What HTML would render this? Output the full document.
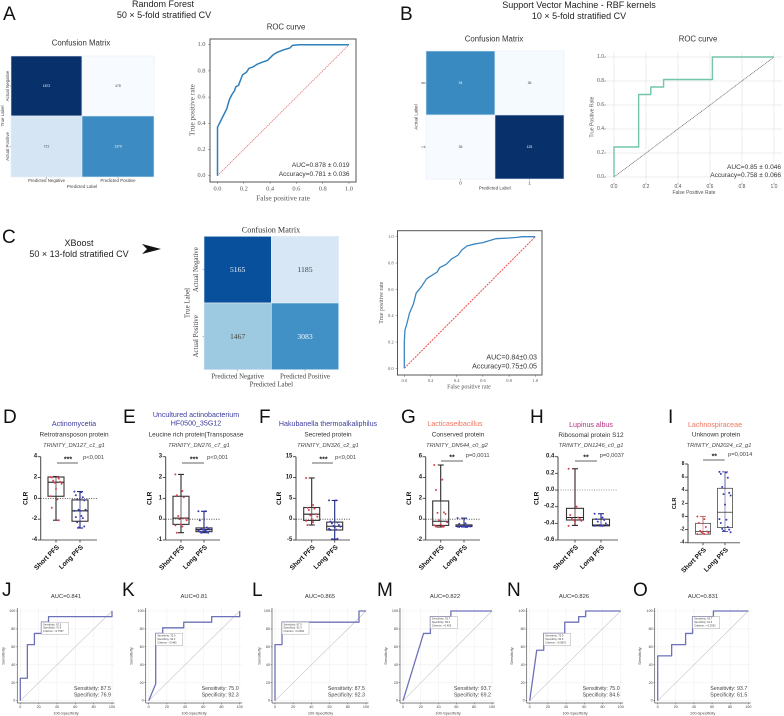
<!DOCTYPE html>
<html lang="en">
<head>
<meta charset="utf-8">
<title>Classifier performance and biomarker figure</title>
<style>
html,body{margin:0;padding:0;background:#fff;}
#figure{display:block;width:784px;height:716px;font-family:"Liberation Sans",sans-serif;filter:blur(0.35px);}
.ttl{font-size:9px;fill:#222;text-anchor:middle;dominant-baseline:central;}
.sub{font-size:7.8px;fill:#333;text-anchor:middle;dominant-baseline:central;}
.ltr{font-size:19px;fill:#111;}
.bt{font-size:7.1px;text-anchor:middle;dominant-baseline:central;}
.bp{font-size:6.45px;fill:#333;text-anchor:middle;dominant-baseline:central;}
.bi{font-size:5.7px;fill:#444;font-style:italic;text-anchor:middle;dominant-baseline:central;}
.auc{font-size:5.8px;fill:#333;text-anchor:middle;dominant-baseline:central;}
</style>
</head>
<body>
<svg id="figure" xmlns="http://www.w3.org/2000/svg" width="784" height="716" viewBox="0 0 784 716">
<rect x="0" y="0" width="784" height="716" fill="#fff"/>

<text class="ltr" x="3" y="20">A</text>
<text class="ltr" x="400" y="20">B</text>
<text class="ltr" x="2" y="243">C</text>
<text class="ltr" x="3" y="423">D</text>
<text class="ltr" x="123" y="423">E</text>
<text class="ltr" x="259" y="423">F</text>
<text class="ltr" x="401" y="423">G</text>
<text class="ltr" x="530" y="423">H</text>
<text class="ltr" x="668" y="423">I</text>
<text class="ltr" x="2" y="596">J</text>
<text class="ltr" x="122" y="596">K</text>
<text class="ltr" x="252" y="596">L</text>
<text class="ltr" x="377" y="596">M</text>
<text class="ltr" x="507" y="596">N</text>
<text class="ltr" x="633" y="596">O</text>

<text class="ttl" x="163" y="4">Random Forest</text>
<text class="ttl" x="164" y="15">50 × 5-fold stratified CV</text>
<text class="sub" x="81" y="43">Confusion Matrix</text>
<text class="sub" x="286" y="27">ROC curve</text>

<text class="ttl" x="579" y="5">Support Vector Machine - RBF kernels</text>
<text class="ttl" x="579" y="16">10 × 5-fold stratified CV</text>
<text class="sub" x="494" y="39">Confusion Matrix</text>
<text class="sub" x="698" y="39">ROC curve</text>

<text class="ttl" x="79" y="243">XBoost</text>
<text class="ttl" x="79" y="254">50 × 13-fold stratified CV</text>
<path d="M142 244 L161 249 L142 254 L147 249 Z" fill="#111"/>
<text x="271" y="230" font-family="Liberation Serif" font-size="8.2" fill="#333" text-anchor="middle" dominant-baseline="central">Confusion Matrix</text>

<g id="cmA"></g>
<g id="rocA"></g>
<g id="cmB"></g>
<g id="rocB"></g>
<g id="cmC"></g>
<g id="rocC"></g>

<text class="bt" fill="#3b3b9e" x="74" y="424">Actinomycetia</text>
<text class="bp" x="74" y="435">Retrotransposon protein</text>
<text class="bi" x="74" y="446">TRINITY_DN127_c1_g1</text>
<text class="bt" fill="#3b3b9e" x="196" y="415">Uncultured actinobacterium</text>
<text class="bt" fill="#3b3b9e" x="196" y="423.5">HF0500_35G12</text>
<text class="bp" x="196" y="435">Leucine rich protein|Transposase</text>
<text class="bi" x="199" y="446">TRINITY_DN276_c7_g1</text>
<text class="bt" fill="#3b3b9e" x="328" y="424">Hakubanella thermoalkaliphilus</text>
<text class="bp" x="328" y="435">Secreted protein</text>
<text class="bi" x="328" y="446">TRINITY_DN326_c2_g1</text>
<text class="bt" fill="#f0745e" x="455" y="424">Lacticaseibacillus</text>
<text class="bp" x="458" y="435">Conserved protein</text>
<text class="bi" x="457" y="446">TRINITY_DN544_c0_g2</text>
<text class="bt" fill="#b0307f" x="591" y="425">Lupinus albus</text>
<text class="bp" x="591" y="435.5">Ribosomal protein S12</text>
<text class="bi" x="591" y="446">TRINITY_DN1246_c0_g1</text>
<text class="bt" fill="#f0745e" x="715" y="425">Lachnospiraceae</text>
<text class="bp" x="716" y="435">Unknown protein</text>
<text class="bi" x="719" y="446">TRINITY_DN2024_c2_g1</text>

<g id="boxD"></g>
<g id="boxE"></g>
<g id="boxF"></g>
<g id="boxG"></g>
<g id="boxH"></g>
<g id="boxI"></g>

<text class="auc" x="66" y="597">AUC=0.841</text>
<text class="auc" x="194" y="597">AUC=0.81</text>
<text class="auc" x="320" y="597">AUC=0.865</text>
<text class="auc" x="445" y="597">AUC=0.822</text>
<text class="auc" x="574" y="597">AUC=0.826</text>
<text class="auc" x="703" y="597">AUC=0.831</text>

<g id="rocJ"></g>
<g id="rocK"></g>
<g id="rocL"></g>
<g id="rocM"></g>
<g id="rocN"></g>
<g id="rocO"></g>
</svg>

<script>
/* ---------- confusion matrix data ---------- */
const cmALabels = ["Predicted Negative", "Predicted Positive"];
const cmARowLabels = ["Actual Negative", "Actual Positive"];
const cmACounts = [[1872, 478], [721, 1379]];
const cmBLabels = ["0", "1"];
const cmBRowLabels = ["0", "1"];
const cmBCounts = [[94, 36], [35, 125]];
const cmCLabels = ["Predicted Negative", "Predicted Positive"];
const cmCRowLabels = ["Actual Negative", "Actual Positive"];
const cmCCounts = [[5165, 1185], [1467, 3083]];

/* ---------- ROC curves, classifier panels ---------- */
const rocTicks = [0, 0.2, 0.4, 0.6, 0.8, 1];
const rocAFpr = [0, 0, 0.005, 0.02, 0.05, 0.07, 0.09, 0.11, 0.13, 0.14, 0.16, 0.19, 0.22, 0.24, 0.27, 0.30, 0.35, 0.38, 0.42, 0.45, 0.50, 0.55, 0.57, 0.62, 1];
const rocATpr = [0, 0.37, 0.38, 0.41, 0.47, 0.51, 0.58, 0.62, 0.65, 0.68, 0.69, 0.77, 0.79, 0.82, 0.83, 0.85, 0.87, 0.88, 0.92, 0.94, 0.96, 0.975, 0.995, 1, 1];
const rocBFpr = [0, 0, 0.154, 0.154, 0.23, 0.23, 0.31, 0.31, 0.615, 0.615, 1];
const rocBTpr = [0, 0.25, 0.25, 0.6875, 0.6875, 0.75, 0.75, 0.8125, 0.8125, 1, 1];
const rocCFpr = [0, 0, 0.005, 0.02, 0.04, 0.07, 0.09, 0.13, 0.17, 0.20, 0.25, 0.27, 0.32, 0.36, 0.41, 0.44, 0.48, 0.54, 0.60, 0.70, 0.80, 0.86, 0.90, 1];
const rocCTpr = [0, 0.20, 0.29, 0.34, 0.42, 0.49, 0.57, 0.62, 0.68, 0.70, 0.73, 0.765, 0.79, 0.83, 0.86, 0.90, 0.93, 0.945, 0.955, 0.985, 0.99, 0.995, 1, 1];

/* ---------- boxplot data: [low whisker, q1, median, q3, high whisker] ---------- */
const boxGroups = ["Short PFS", "Long PFS"];
const dTicks = [4, 2, 0, -2, -4];
const dShort = [-2.1, 0.2, 1.55, 2.05, 2.1];
const dLong = [-2.85, -2.2, -1.2, -0.15, 0.65];
const dShortPts = [2.05, 2.05, 2.0, 1.9, 1.7, 1.6, 1.5, 1.4, 0.9, 0.2, -0.1, -0.9, -2.1];
const dLongPts = [0.65, 0.6, 0.3, 0.1, -0.1, -0.2, -1.1, -1.1, -1.2, -1.2, -1.7, -1.8, -1.9, -2.3, -2.7, -2.8];
const eTicks = [3, 2, 1, 0, -1];
const eShort = [-0.65, -0.25, 0.05, 1.1, 2.15];
const eLong = [-0.65, -0.6, -0.5, -0.42, 0.38];
const eShortPts = [2.15, 1.35, 1.15, 1.05, 0.15, 0.05, 0, -0.05, -0.25, -0.3, -0.35, -0.65];
const eLongPts = [0.38, 0.38, -0.05, -0.4, -0.45, -0.45, -0.5, -0.5, -0.5, -0.55, -0.55, -0.6, -0.6, -0.65, -0.65];
const fTicks = [15, 10, 5, 0, -5];
const fShort = [-1.4, -0.3, 1.2, 2.8, 9.9];
const fLong = [-4.8, -2.6, -1.7, -0.7, 4.5];
const fShortPts = [9.9, 3.4, 2.7, 2.5, 2.2, 1.2, 0.9, 0.6, 0, -0.4, -0.7, -1.4];
const fLongPts = [4.5, 4.5, -0.6, -0.8, -1, -1.4, -1.6, -1.8, -2, -2.3, -2.5, -2.6, -4.7, -4.8];
const gTicks = [6, 4, 2, 0, -2];
const gShort = [-0.75, -0.6, -0.2, 1.75, 5.2];
const gLong = [-0.75, -0.7, -0.68, -0.55, 0.1];
const gShortPts = [5.2, 3.8, 2.8, 0.65, 0.6, 0.5, -0.1, -0.3, -0.5, -0.6, -0.7, -0.7, -0.7, -0.75];
const gLongPts = [0.1, -0.4, -0.45, -0.6, -0.65, -0.68, -0.7, -0.7, -0.7, -0.72, -0.75, -0.75, -0.75];
const hTicks = [0.4, 0.2, 0, -0.2, -0.4, -0.6];
const hShort = [-0.425, -0.36, -0.33, -0.22, 0.255];
const hLong = [-0.43, -0.43, -0.42, -0.35, -0.285];
const hShortPts = [0.255, -0.2, -0.3, -0.33, -0.34, -0.35, -0.36, -0.37, -0.38, -0.43];
const hLongPts = [-0.285, -0.33, -0.35, -0.36, -0.38, -0.4, -0.42, -0.42, -0.43, -0.43, -0.43];
const iTicks = [8, 6, 4, 2, 0, -2, -4];
const iShort = [-2.7, -2.7, -2.3, -1.04, 0];
const iLong = [-2.3, -1.7, 0.65, 4.3, 6.8];
const iShortPts = [0, -0.4, -1, -1.6, -2.2, -2.3, -2.4, -2.5, -2.6, -2.7, -2.7];
const iLongPts = [6.8, 6.7, 6.5, 5.9, 4.5, 3.6, 3.4, 3.2, 1.8, -0.4, -0.5, -1, -1.6, -1.9, -2, -2.2, -2.4];

/* ---------- ROC curves, biomarker panels ---------- */
const smallTicks = [0, 20, 40, 60, 80, 100];
const jX = [0, 0, 7.7, 7.7, 15.4, 15.4, 23.1, 23.1, 30.8, 30.8, 100, 100];
const jY = [0, 25, 25, 62.5, 62.5, 75, 75, 87.5, 87.5, 93.75, 93.75, 100];
const jCut = [23.1, 87.5];
const jStats = ["87.5", "76.9", ">0.7567"];
const kX = [0, 7.7, 7.7, 15.4, 15.4, 38.5, 38.5, 69.2, 69.2, 100, 100];
const kY = [0, 18.75, 75, 75, 81.25, 81.25, 87.5, 87.5, 93.75, 93.75, 100];
const kCut = [7.7, 75];
const kStats = ["75.0", "92.3", ">0.483"];
const lX = [0, 0, 7.7, 7.7, 92.3, 92.3, 100];
const lY = [0, 62.5, 62.5, 87.5, 87.5, 100, 100];
const lCut = [7.7, 87.5];
const lStats = ["87.5", "92.3", ">0.0962"];
const mX = [0, 23.1, 30.8, 30.8, 53.8, 53.8, 100];
const mY = [0, 75, 75, 93.75, 93.75, 100, 100];
const mCut = [30.8, 93.75];
const mStats = ["93.7", "69.2", ">0.456"];
const nX = [0, 7.7, 15.4, 15.4, 38.5, 38.5, 53.8, 53.8, 61.5, 61.5, 100];
const nY = [0, 56.25, 56.25, 75, 75, 87.5, 87.5, 93.75, 93.75, 100, 100];
const nCut = [15.4, 75];
const nStats = ["75.0", "84.6", ">0.0875"];
const oX = [0, 0, 15.4, 15.4, 30.8, 30.8, 38.5, 38.5, 61.5, 61.5, 100];
const oY = [0, 50, 50, 62.5, 62.5, 75, 75, 93.75, 93.75, 100, 100];
const oCut = [38.5, 93.75];
const oStats = ["93.7", "61.5", ">-0.2591"];

const SVGNS = "http://www.w3.org/2000/svg";
const SERIF = '"Liberation Serif",serif';
const SANS = '"Liberation Sans",sans-serif';

function scale(d0, d1, r0, r1) {
  return function (v) { return r0 + (v - d0) * (r1 - r0) / (d1 - d0); };
}
function make(parent, tag, name, attrs) {
  const el = document.createElementNS(SVGNS, tag);
  for (const k in attrs) el.setAttribute(k, attrs[k]);
  
  
  parent.appendChild(el);
  return el;
}
function line(p, name, x1, y1, x2, y2, stroke, w, dash) {
  const a = { x1: x1, y1: y1, x2: x2, y2: y2, stroke: stroke, 'stroke-width': w };
  if (dash) a['stroke-dasharray'] = dash;
  return make(p, 'line', name, a);
}
function label(p, name, str, x, y, size, fill, opt) {
  opt = opt || {};
  const a = { x: x, y: y, 'font-size': size, fill: fill, 'font-family': opt.font || SANS,
    'text-anchor': opt.anchor || 'middle', 'dominant-baseline': 'central' };
  if (opt.weight) a['font-weight'] = opt.weight;
  if (opt.rotate !== undefined) a.transform = 'rotate(' + opt.rotate + ' ' + x + ' ' + y + ')';
  const t = make(p, 'text', name, a);
  t.textContent = str;
  return t;
}
function polyline(p, name, xs, ys, sx, sy, stroke, w) {
  const pts = xs.map(function (x, i) { return sx(x).toFixed(2) + ',' + sy(ys[i]).toFixed(2); }).join(' ');
  return make(p, 'polyline', name, { points: pts, fill: 'none', stroke: stroke, 'stroke-width': w, 'stroke-linejoin': 'round' });
}

const BLUES = [[247,251,255],[222,235,247],[198,219,239],[158,202,225],[107,174,214],[66,146,198],[33,113,181],[8,81,156],[8,48,107]];
function blues(t) {
  t = Math.max(0, Math.min(1, t)) * (BLUES.length - 1);
  const i = Math.min(BLUES.length - 2, Math.floor(t)), f = t - i;
  const c = BLUES[i].map(function (v, k) { return Math.round(v + (BLUES[i + 1][k] - v) * f); });
  return 'rgb(' + c.join(',') + ')';
}
/* colour ramp for row-normalised matrices: row share in, colour position out */
function shareRamp(s) {
  const from = [0, 0.187, 0.32, 0.68, 0.81, 1];
  const to = [0, 0.16, 0.375, 0.63, 0.875, 1];
  for (let i = 0; i < from.length - 1; i++) {
    if (s <= from[i + 1]) return to[i] + (s - from[i]) * (to[i + 1] - to[i]) / (from[i + 1] - from[i]);
  }
  return 1;
}

function drawCM(id, counts, cols, rows, o) {
  const p = document.getElementById(id);
  const flat = counts[0].concat(counts[1]);
  const lo = Math.min.apply(null, flat), hi = Math.max.apply(null, flat);
  const xEdge = [o.x0, o.xm, o.x1], yEdge = [o.y0, o.ym, o.y1];
  counts.forEach(function (row, r) {
    const rowSum = row[0] + row[1];
    row.forEach(function (v, c) {
      const t = o.rowNorm ? shareRamp(v / rowSum) : (v - lo) / (hi - lo);
      make(p, 'rect', 'cm-cell', { x: xEdge[c], y: yEdge[r], width: xEdge[c + 1] - xEdge[c], height: yEdge[r + 1] - yEdge[r],
        fill: blues(t), stroke: '#e4eef8', 'stroke-width': 0.6 });
      label(p, 'cm-cell-value', String(v), (xEdge[c] + xEdge[c + 1]) / 2, (yEdge[r] + yEdge[r + 1]) / 2, o.cellSize,
        t > 0.5 ? '#f2f6fb' : '#444', { font: o.font });
    });
  });
  cols.forEach(function (s, c) {
    const x = (xEdge[c] + xEdge[c + 1]) / 2;
    line(p, 'cm-x-tick', x, o.y1, x, o.y1 + 1.5, '#555', 0.4);
    label(p, 'cm-x-tick-label', s, x, o.colLabelY, o.tickSize, '#444', { font: o.font });
  });
  rows.forEach(function (s, r) {
    const y = (yEdge[r] + yEdge[r + 1]) / 2;
    line(p, 'cm-y-tick', o.x0 - 1.5, y, o.x0, y, '#555', 0.4);
    label(p, 'cm-y-tick-label', s, o.rowLabelX, y, o.tickSize, '#444', { font: o.font, rotate: -90 });
  });
  label(p, 'cm-x-axis-title', 'Predicted Label', o.xTitle[0], o.xTitle[1], o.tickSize, '#444', { font: o.font });
  label(p, 'cm-y-axis-title', o.yTitleText, o.yTitle[0], o.yTitle[1], o.tickSize, '#444', { font: o.font, rotate: -90 });
}

function drawRocLarge(id, xs, ys, o) {
  const p = document.getElementById(id);
  const sx = scale(0, 1, o.x0, o.x1), sy = scale(0, 1, o.y0, o.y1);
  if (o.grid) {
    rocTicks.forEach(function (t) {
      line(p, 'grid-vertical', sx(t), o.top, sx(t), o.bottom, '#e8e8e8', 0.8);
      line(p, 'grid-horizontal', o.left, sy(t), o.right, sy(t), '#e8e8e8', 0.8);
    });
  }
  if (o.box) {
    make(p, 'rect', 'plot-frame', { x: o.left, y: o.top, width: o.right - o.left, height: o.bottom - o.top, fill: 'none', stroke: '#555', 'stroke-width': 1 });
  }
  rocTicks.forEach(function (t) {
    line(p, 'x-tick', sx(t), o.bottom, sx(t), o.bottom + 1.8, '#555', 0.5);
    line(p, 'y-tick', o.left - 1.8, sy(t), o.left, sy(t), '#555', 0.5);
    label(p, 'x-tick-label', t.toFixed(1), sx(t), o.xLabelY, o.tickSize, '#555', { font: o.font });
    label(p, 'y-tick-label', t.toFixed(1), o.yLabelX, sy(t), o.tickSize, '#555', { font: o.font, anchor: 'end' });
  });
  line(p, 'chance-diagonal', sx(0), sy(0), sx(1), sy(1), o.diag, o.diagW, o.diagDash);
  polyline(p, 'roc-curve', xs, ys, sx, sy, o.color, o.lineW);
  label(p, 'x-axis-title', o.xTitleText, o.xTitle[0], o.xTitle[1], o.titleSize, '#555', { font: o.font });
  label(p, 'y-axis-title', o.yTitleText, o.yTitle[0], o.yTitle[1], o.titleSize, '#555', { font: o.font, rotate: -90 });
  label(p, 'auc-annotation', o.auc, o.textX, o.textY[0], o.statSize, '#333', { anchor: 'end' });
  label(p, 'accuracy-annotation', o.acc, o.textX, o.textY[1], o.statSize, '#333', { anchor: 'end' });
}

function drawBox(id, ticks, shortStats, longStats, shortPts, longPts, o) {
  const p = document.getElementById(id);
  const sy = scale(ticks[0], ticks[ticks.length - 1], o.yTop, o.yBottom);
  const thin = o.thin ? 0.7 : 1.1;
  line(p, 'y-axis-line', o.axisX, o.yTop, o.axisX, o.yBottom, '#444', 1);
  line(p, 'x-axis-line', o.axisX, o.yBottom, o.axisEnd, o.yBottom, '#666', 1);
  ticks.forEach(function (t) {
    line(p, 'y-tick', o.axisX - 3, sy(t), o.axisX, sy(t), '#444', 0.9);
    label(p, 'y-tick-label', o.dec ? t.toFixed(1) : String(t), o.axisX - 3.6, sy(t), o.thin ? 5 : 6, '#222', { anchor: 'end', weight: 'bold' });
  });
  if (o.zero) line(p, 'zero-reference-line', o.axisX, sy(0), o.axisEnd, sy(0), o.zero, 0.8, '1 1.4');
  [[shortStats, shortPts, o.cats[0], '#d8434f', o.shortWhisker], [longStats, longPts, o.cats[1], '#3b3bb5', '#1c2480']].forEach(function (g, gi) {
    const s = g[0], cx = g[2], w = o.boxW / 2;
    const nm = gi === 0 ? 'short-pfs' : 'long-pfs';
    line(p, nm + '-whisker', cx, sy(s[0]), cx, sy(s[4]), g[4], thin);
    line(p, nm + '-whisker-cap-low', cx - 3, sy(s[0]), cx + 3, sy(s[0]), g[4], thin);
    line(p, nm + '-whisker-cap-high', cx - 3, sy(s[4]), cx + 3, sy(s[4]), g[4], thin);
    make(p, 'rect', nm + '-box', { x: cx - w, y: sy(s[3]), width: o.boxW, height: sy(s[1]) - sy(s[3]), fill: '#fff', 'fill-opacity': 0.35, stroke: '#333', 'stroke-width': o.thin ? 0.7 : 1.1 });
    line(p, nm + '-median', cx - w, sy(s[2]), cx + w, sy(s[2]), '#222', o.thin ? 0.7 : 1.1);
    g[1].forEach(function (v, i) {
      const off = ((i * 5) % 9 - 4) * o.jitter;
      make(p, 'circle', nm + '-point', { cx: cx + off, cy: sy(v), r: 1, fill: g[3] });
    });
    label(p, 'group-label', boxGroups[gi], cx + 2.5, o.yBottom + 6.5, 6.7, '#111', { anchor: 'end', weight: 'bold', rotate: -45 });
    line(p, 'x-tick', cx, o.yBottom, cx, o.yBottom + 2.5, '#444', 0.9);
  });
  label(p, 'y-axis-title', 'CLR', o.clrX, (o.yTop + o.yBottom) / 2, o.thin ? 5.7 : 6.5, '#111', { weight: 'bold', rotate: -90 });
  line(p, 'significance-bar', o.sig[0], o.sigY, o.sig[1], o.sigY, '#666', 0.9);
  label(p, 'significance-stars', o.stars, o.starX, o.sigY - 3, 7, '#222', { weight: 'bold' });
  label(p, 'p-value', o.pText, o.pX, o.sigY - 5, 5.8, '#444', { anchor: 'start' });
}

function drawSmallRoc(id, xs, ys, cut, stats, o) {
  const p = document.getElementById(id);
  const sx = scale(0, 100, o.x0, o.x100), sy = scale(0, 100, 700.7, 611);
  const left = o.x0 - 3, right = o.x100 + 2.4, top = 608, bottom = 703;
  smallTicks.forEach(function (t) {
    line(p, 'grid-vertical', sx(t), top, sx(t), bottom, '#efefef', 0.6);
    line(p, 'grid-horizontal', left, sy(t), right, sy(t), '#efefef', 0.6);
    line(p, 'x-tick', sx(t), bottom, sx(t), bottom + 1.4, '#555', 0.5);
    line(p, 'y-tick', left - 1.4, sy(t), left, sy(t), '#555', 0.5);
    label(p, 'x-tick-label', String(t), sx(t), bottom + 4.2, 3.7, '#444');
    label(p, 'y-tick-label', String(t), left - 2, sy(t), 3.7, '#444', { anchor: 'end' });
  });
  line(p, 'y-axis-line', left, top, left, bottom, '#555', 0.7);
  line(p, 'x-axis-line', left, bottom, right, bottom, '#555', 0.7);
  line(p, 'chance-diagonal', sx(0), sy(0), sx(100), sy(100), '#c9c4c4', 0.6);
  polyline(p, 'roc-curve', xs, ys, sx, sy, '#6d71ba', 1.3);
  const bx = sx(cut[0]), by = sy(cut[1]);
  make(p, 'rect', 'criterion-box', { x: bx, y: by, width: 27, height: 12, fill: '#fff', stroke: '#aaa', 'stroke-width': 0.5 });
  ['Sensitivity: ' + stats[0], 'Specificity: ' + stats[1], 'Criterion: ' + stats[2]].forEach(function (s, i) {
    label(p, 'criterion-text', s, bx + 1.5, by + 2.6 + i * 3.4, 2.6, '#444', { anchor: 'start' });
  });
  label(p, 'sensitivity-annotation', 'Sensitivity: ' + stats[0], o.x100 - 1, 689, 5.3, '#444', { anchor: 'end' });
  label(p, 'specificity-annotation', 'Specificity: ' + stats[1], o.x100 - 1, 695.3, 5.3, '#444', { anchor: 'end' });
  label(p, 'x-axis-title', '100-Specificity', o.xTitle, 713, 3.9, '#444');
  label(p, 'y-axis-title', 'Sensitivity', o.yTitle, 656, 3.9, '#444', { rotate: -90 });
}

/* ---------- render ---------- */
drawCM('cmA', cmACounts, cmALabels, cmARowLabels, { x0: 11, xm: 82, x1: 154, y0: 56, ym: 116, y1: 177, cellSize: 3.4, tickSize: 4.4, font: SANS, colLabelY: 180.3, rowLabelX: 7.3, xTitle: [82, 186.3], yTitle: [2.4, 116], yTitleText: 'True Label' });
drawCM('cmB', cmBCounts, cmBLabels, cmBRowLabels, { x0: 426, xm: 495, x1: 564, y0: 51, ym: 115, y1: 179, cellSize: 3.4, tickSize: 4.6, font: SANS, colLabelY: 182.8, rowLabelX: 423, xTitle: [494.7, 188], yTitle: [416, 117], yTitleText: 'Actual Label' });
drawCM('cmC', cmCCounts, cmCLabels, cmCRowLabels, { x0: 204, xm: 271.3, x1: 338.7, y0: 236.3, ym: 303, y1: 369.7, cellSize: 7.7, tickSize: 6.9, font: SERIF, rowNorm: true, colLabelY: 377, rowLabelX: 196.7, xTitle: [271.3, 385], yTitle: [188, 303], yTitleText: 'True Label' });

drawRocLarge('rocA', rocAFpr, rocATpr, { x0: 217.5, x1: 349, y0: 175.7, y1: 44.7, left: 210, right: 356, top: 39, bottom: 182, box: true, font: SERIF, tickSize: 6.4, titleSize: 7.4, color: '#2f80b9', lineW: 1.5, diag: '#e25b5b', diagW: 0.7, diagDash: '1.4 0.8', xLabelY: 189, yLabelX: 205.5, xTitleText: 'False positive rate', xTitle: [283, 198], yTitleText: 'True positive rate', yTitle: [192, 110], auc: 'AUC=0.878 ± 0.019', acc: 'Accuracy=0.781 ± 0.036', textX: 349.5, textY: [165.7, 174.7], statSize: 6.55 });
drawRocLarge('rocB', rocBFpr, rocBTpr, { x0: 614, x1: 774, y0: 177, y1: 57, left: 606, right: 782, top: 51, bottom: 183, grid: true, font: SANS, tickSize: 5, titleSize: 5, color: '#73c6ab', lineW: 1.4, diag: '#444', diagW: 0.55, diagDash: '1.2 0.5', xLabelY: 187, yLabelX: 604, xTitleText: 'False Positive Rate', xTitle: [694, 193], yTitleText: 'True Positive Rate', yTitle: [592.7, 117], auc: 'AUC=0.85 ± 0.046', acc: 'Accuracy=0.758 ± 0.066', textX: 781, textY: [167.7, 175.7], statSize: 6.55 });
drawRocLarge('rocC', rocCFpr, rocCTpr, { x0: 404.3, x1: 535.3, y0: 368.3, y1: 236.7, left: 397.5, right: 542, top: 230.7, bottom: 375, box: true, font: SERIF, tickSize: 4.5, titleSize: 6, color: '#3a86c0', lineW: 1.3, diag: '#f04a4a', diagW: 1, diagDash: '2 1', xLabelY: 380.5, yLabelX: 393.6, xTitleText: 'False positive rate', xTitle: [469, 387.7], yTitleText: 'True positive rate', yTitle: [382, 302.7], auc: 'AUC=0.84±0.03', acc: 'Accuracy=0.75±0.05', textX: 537, textY: [357.7, 366.3], statSize: 7.1 });

drawBox('boxD', dTicks, dShort, dLong, dShortPts, dLongPts, { axisX: 40.7, axisEnd: 97, yTop: 456.7, yBottom: 540, cats: [56, 80], boxW: 16, jitter: 1.4, zero: '#333', shortWhisker: '#2a2a2a', clrX: 26, sig: [57, 78], sigY: 463, stars: '***', starX: 68, pText: 'p<0,001', pX: 83 });
drawBox('boxE', eTicks, eShort, eLong, eShortPts, eLongPts, { axisX: 165.7, axisEnd: 220, yTop: 456.7, yBottom: 540, cats: [181, 204], boxW: 16, jitter: 1.4, zero: '#333', shortWhisker: '#2a2a2a', clrX: 150, sig: [182, 204], sigY: 463, stars: '***', starX: 194, pText: 'p<0,001', pX: 207 });
drawBox('boxF', fTicks, fShort, fLong, fShortPts, fLongPts, { axisX: 296, axisEnd: 350, yTop: 456.7, yBottom: 540, cats: [311.7, 334.7], boxW: 16, jitter: 1.4, zero: '#333', shortWhisker: '#2a2a2a', clrX: 279.5, sig: [312, 333], sigY: 463, stars: '***', starX: 323.5, pText: 'p<0,001', pX: 335 });
drawBox('boxG', gTicks, gShort, gLong, gShortPts, gLongPts, { axisX: 425.7, axisEnd: 480, yTop: 456.7, yBottom: 540, cats: [440.7, 464], boxW: 16, jitter: 1.6, zero: '#333', shortWhisker: '#2a2a2a', clrX: 409.5, sig: [441, 463], sigY: 461, stars: '**', starX: 452, pText: 'p=0,0011', pX: 465.7 });
drawBox('boxH', hTicks, hShort, hLong, hShortPts, hLongPts, { axisX: 558, axisEnd: 618, yTop: 456.7, yBottom: 540, cats: [575, 601], boxW: 17, jitter: 1.6, dec: true, zero: '#777', shortWhisker: '#3a2020', clrX: 537, sig: [575, 597], sigY: 461, stars: '**', starX: 586, pText: 'p=0,0037', pX: 599.7 });
drawBox('boxI', iTicks, iShort, iLong, iShortPts, iLongPts, { axisX: 688, axisEnd: 740, yTop: 464, yBottom: 542.7, cats: [703, 725], boxW: 15, jitter: 1.4, thin: true, shortWhisker: '#b03a3a', clrX: 675, sig: [703, 724.7], sigY: 460, stars: '**', starX: 714.3, pText: 'p=0,0014', pX: 728 });

drawSmallRoc('rocJ', jX, jY, jCut, jStats, { x0: 20.3, x100: 112, xTitle: 66, yTitle: 3 });
drawSmallRoc('rocK', kX, kY, kCut, kStats, { x0: 148.7, x100: 239.7, xTitle: 194, yTitle: 131 });
drawSmallRoc('rocL', lX, lY, lCut, lStats, { x0: 275, x100: 366, xTitle: 320.5, yTitle: 259 });
drawSmallRoc('rocM', mX, mY, mCut, mStats, { x0: 403, x100: 492, xTitle: 448, yTitle: 385.7 });
drawSmallRoc('rocN', nX, nY, nCut, nStats, { x0: 529.7, x100: 620.7, xTitle: 575, yTitle: 511.7 });
drawSmallRoc('rocO', oX, oY, oCut, oStats, { x0: 657.7, x100: 748.3, xTitle: 702.7, yTitle: 639.7 });
</script>
</body>
</html>
